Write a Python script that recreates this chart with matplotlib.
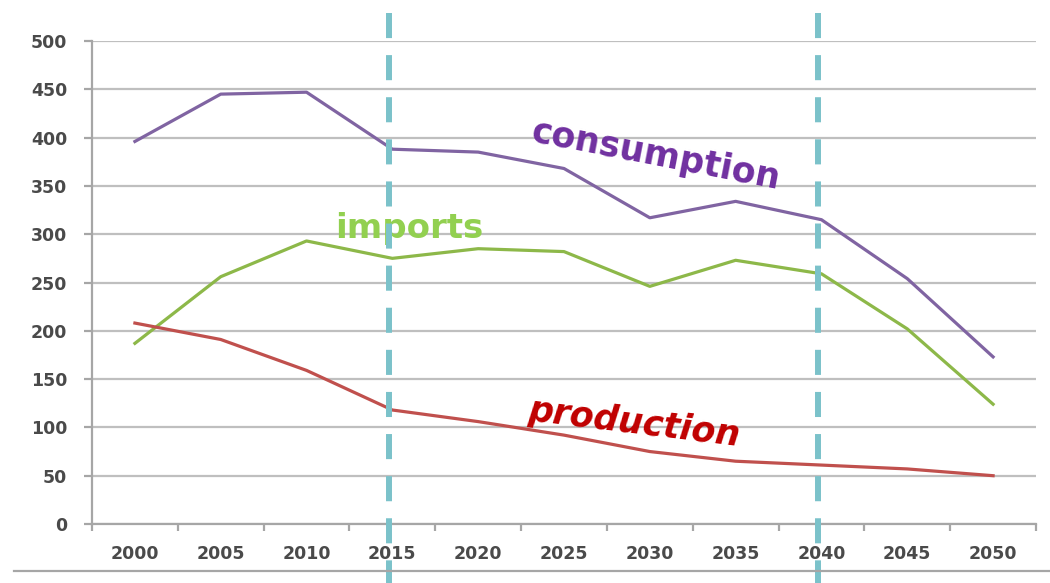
import matplotlib
matplotlib.use("Agg")
import matplotlib.pyplot as plt
from matplotlib.lines import Line2D
from matplotlib.transforms import blended_transform_factory

years = ["2000", "2005", "2010", "2015", "2020", "2025", "2030", "2035", "2040", "2045", "2050"]
consumption = [396, 445, 447, 388, 385, 368, 317, 334, 315, 254, 173]
imports = [187, 256, 293, 275, 285, 282, 246, 273, 259, 202, 124]
production = [208, 191, 159, 118, 106, 92, 75, 65, 61, 57, 50]
yticks = [0, 50, 100, 150, 200, 250, 300, 350, 400, 450, 500]
marker_years = ["2015", "2040"]

fig = plt.figure(figsize=(10.5, 5.83), dpi=100)
ax = fig.add_axes([92 / 1050, 59 / 583, 944 / 1050, 483 / 583])

x = list(range(len(years)))
grid_c = "#BFBFBF"
ax.set_ylim(0, 500)
ax.set_xlim(-0.5, len(years) - 0.5)
ax.set_yticks(yticks)
ax.set_yticklabels([str(v) for v in yticks])
ax.set_xticks(x)
ax.set_xticklabels(years)
ax.set_xticks([i - 0.5 for i in range(len(years) + 1)], minor=True)
ax.grid(axis="y", color=grid_c, linewidth=1.6, zorder=0)
ax.set_axisbelow(True)
for s in ["top", "right"]:
    ax.spines[s].set_visible(False)
for s in ["left", "bottom"]:
    ax.spines[s].set_color("#A6A6A6")
    ax.spines[s].set_linewidth(1.6)
ax.tick_params(axis="y", length=6, width=1.6, color="#A6A6A6", pad=12,
               labelsize=12.5, labelcolor="#4A4A4A")
ax.tick_params(axis="x", which="major", length=0, pad=15, labelsize=12.5, labelcolor="#4A4A4A")
ax.tick_params(axis="x", which="minor", length=5, width=1.6, color="#A6A6A6")
for lab in ax.get_xticklabels() + ax.get_yticklabels():
    lab.set_fontweight("bold")

ax.plot(x, consumption, color="#8064A2", linewidth=2.3, zorder=3)
ax.plot(x, imports, color="#8DB849", linewidth=2.3, zorder=3)
ax.plot(x, production, color="#C0504D", linewidth=2.3, zorder=3)

ax.text(6.07, 382, "consumption", color="#7030A0", fontsize=25, fontweight="bold",
        rotation=-11, ha="center", va="center", rotation_mode="anchor", zorder=4)
ax.text(3.2, 306, "imports", color="#92D050", fontsize=24.5, fontweight="bold",
        ha="center", va="center", zorder=4)
ax.text(5.82, 104, "production", color="#C00000", fontsize=25, fontweight="bold",
        style="italic", rotation=-7, ha="center", va="center", rotation_mode="anchor", zorder=4)

trans = blended_transform_factory(ax.transData, fig.transFigure)
for yr in marker_years:
    xi = years.index(yr) - 0.04
    ax.plot([xi, xi], [1 - 13 / 583, 0], transform=trans, color="#7BC2CA",
            linewidth=4.3, dashes=(4.2, 2.85), dash_capstyle="butt",
            clip_on=False, zorder=5)

fig.add_artist(Line2D([14 / 1050, 1], [1 - 571 / 583, 1 - 571 / 583],
                      transform=fig.transFigure, color="#A6A6A6", linewidth=1.6))

fig.savefig("out.png", dpi=100)
